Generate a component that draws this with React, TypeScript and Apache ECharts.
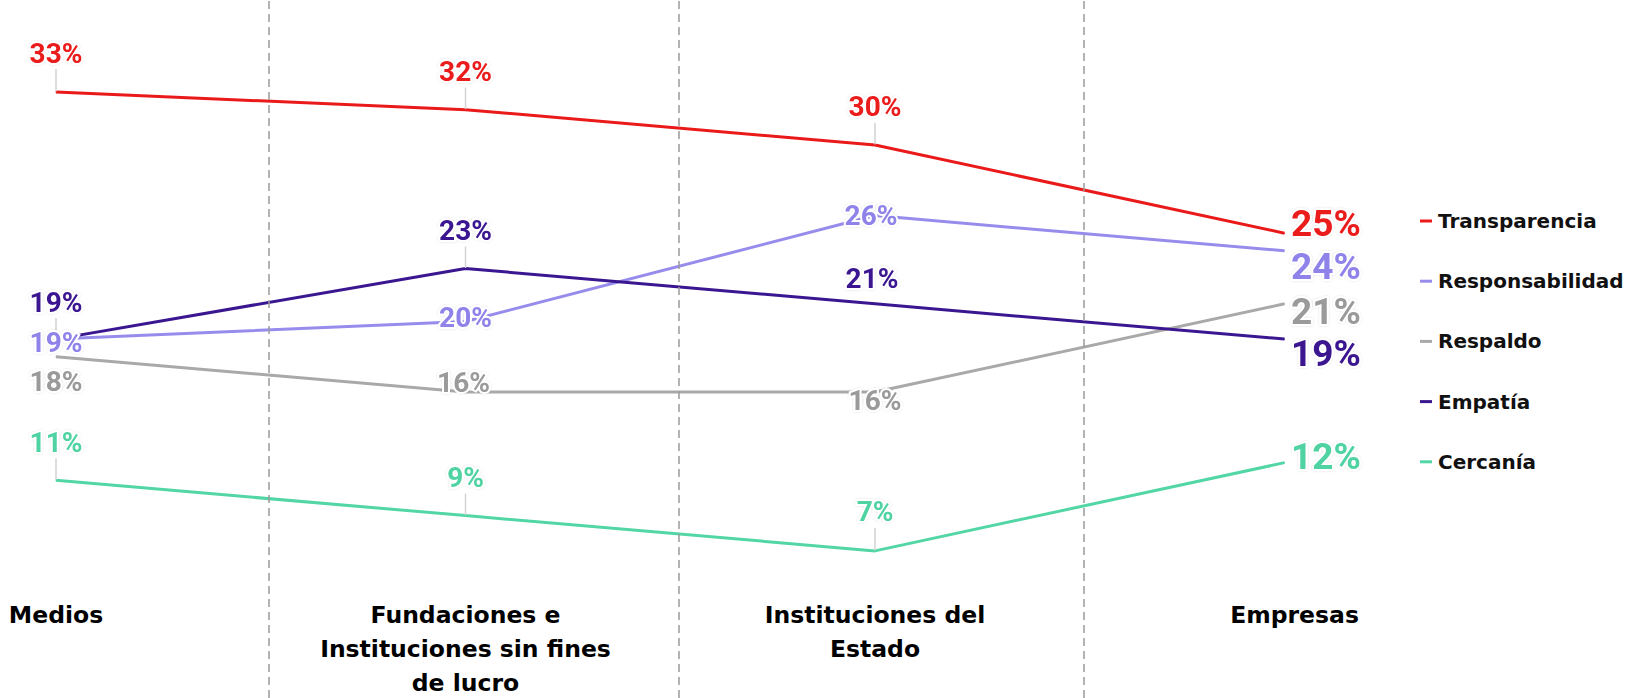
import React, { useEffect, useRef } from 'react';
import * as echarts from 'echarts';

// ---- data ----
const categories = [
  'Medios',
  'Fundaciones e\nInstituciones sin fines\nde lucro',
  'Instituciones del\nEstado',
  'Empresas',
];
const seriesNames = ['Transparencia', 'Responsabilidad', 'Respaldo', 'Empatía', 'Cercanía'];
const transparencia = [33, 32, 30, 25];
const responsabilidad = [19, 20, 26, 24];
const respaldo = [18, 16, 16, 21];
const empatia = [19, 23, 21, 19];
const cercania = [11, 9, 7, 12];
const dividers = [0.518, 1.52, 2.513];

// ---- styles ----
const colors = ['#ea1a1a', '#978cec', '#a9a9a9', '#3a1690', '#52d6a6'];
const labelColors = ['#ea1a1a', '#8f83ea', '#9a9a9a', '#3a1690', '#4fd3a2'];
// per-point label placement: [dx, dy, leader]
const layouts: [number, number, boolean][][] = [
  [[0, -39, true], [0, -38, true], [0, -38, true], [0, -10, false]],
  [[0, 3, false], [0, -4, false], [-4, 0, false], [0, 16, false]],
  [[0, 25, false], [-2, -10, false], [0, 8, false], [0, 8, false]],
  [[0, -37, true], [0, -38, true], [-3, -25, false], [0, 14, false]],
  [[0, -38, true], [0, -38, true], [0, -39, true], [0, -6, false]],
];

const FONT = '"DejaVu Sans", sans-serif';

export default function App() {
  const ref = useRef<HTMLDivElement>(null);
  useEffect(() => {
    if (!ref.current) return;
    const chart = echarts.init(ref.current, undefined, { renderer: 'svg' });
    const allValues = [transparencia, responsabilidad, respaldo, empatia, cercania];
    const lineSeries = allValues.map((vals, si) => ({
      name: seriesNames[si],
      type: 'line',
      xAxisIndex: 0,
      yAxisIndex: 0,
      z: 3,
      symbol: 'circle',
      symbolSize: 1,
      showSymbol: true,
      itemStyle: { color: colors[si] },
      lineStyle: { color: colors[si], width: 3 },
      labelLine: { show: false, lineStyle: { color: '#d2d2d2', width: 1.5 } },
      labelLayout: (p: any) => {
        const l = layouts[si][p.dataIndex];
        return { dx: l[0], dy: l[1] };
      },
      data: vals.map((v, i) => {
        const last = i === vals.length - 1;
        return {
          value: v,
          label: {
            show: true,
            position: last ? 'right' : 'inside',
            distance: 6,
            formatter: '{c}%',
            color: labelColors[si],
            fontFamily: 'Roboto, sans-serif',
            fontWeight: 'bold',
            fontSize: last ? 37 : 28,
            textBorderColor: '#fff',
            textBorderWidth: 4,
            textShadowColor: 'rgba(0,0,0,0.12)',
            textShadowBlur: 2,
          },
          labelLine: { show: layouts[si][i][2], lineStyle: { color: '#d2d2d2', width: 1.5 } },
        };
      }),
    }));

    const option: any = {
      animation: false,
      backgroundColor: '#fff',
      grid: { left: 56, right: 342.5, top: 0, bottom: 0, containLabel: false, outerBoundsMode: 'none' },
      xAxis: [
        {
          type: 'category',
          data: categories,
          boundaryGap: false,
          axisLine: { show: false },
          axisTick: { show: false },
          splitLine: { show: false },
          axisLabel: {
            interval: 0,
            margin: -100,
            color: '#000',
            fontFamily: FONT,
            fontWeight: 'bold',
            fontSize: 23.5,
            lineHeight: 34,
            align: 'center',
            formatter: (v: string, i: number) => (i === categories.length - 1 ? '{e|' + v + '}' : v),
            rich: { e: { padding: [0, 0, 0, 20], fontFamily: FONT, fontWeight: 'bold', fontSize: 23.5, color: '#000', lineHeight: 34 } },
          },
        },
        { type: 'value', min: 0, max: 3, show: false },
      ],
      yAxis: { type: 'value', min: -1.334, max: 38.213, show: false, splitLine: { show: false } },
      legend: {
        data: seriesNames,
        orient: 'vertical',
        left: 1415,
        top: 204,
        icon: 'rect',
        itemWidth: 12,
        itemHeight: 3,
        itemGap: 36.2,
        selectedMode: false,
        textStyle: { fontFamily: FONT, fontWeight: 'bold', fontSize: 20, color: '#111', lineHeight: 24, padding: [0, 0, 0, 1] },
      },
      series: [
        {
          type: 'line',
          xAxisIndex: 1,
          yAxisIndex: 0,
          data: [],
          z: 1,
          silent: true,
          markLine: {
            silent: true,
            symbol: ['none', 'none'],
            label: { show: false },
            lineStyle: { color: '#9a9a9a', type: [8, 5], width: 1.5 },
            data: dividers.map((x) => ({ xAxis: x })),
          },
        },
        ...lineSeries,
      ],
    };
    chart.setOption(option);
    return () => chart.dispose();
  }, []);
  return <div ref={ref} style={{ position: 'fixed', left: 0, top: 0, width: 1627, height: 698 }} />;
}
